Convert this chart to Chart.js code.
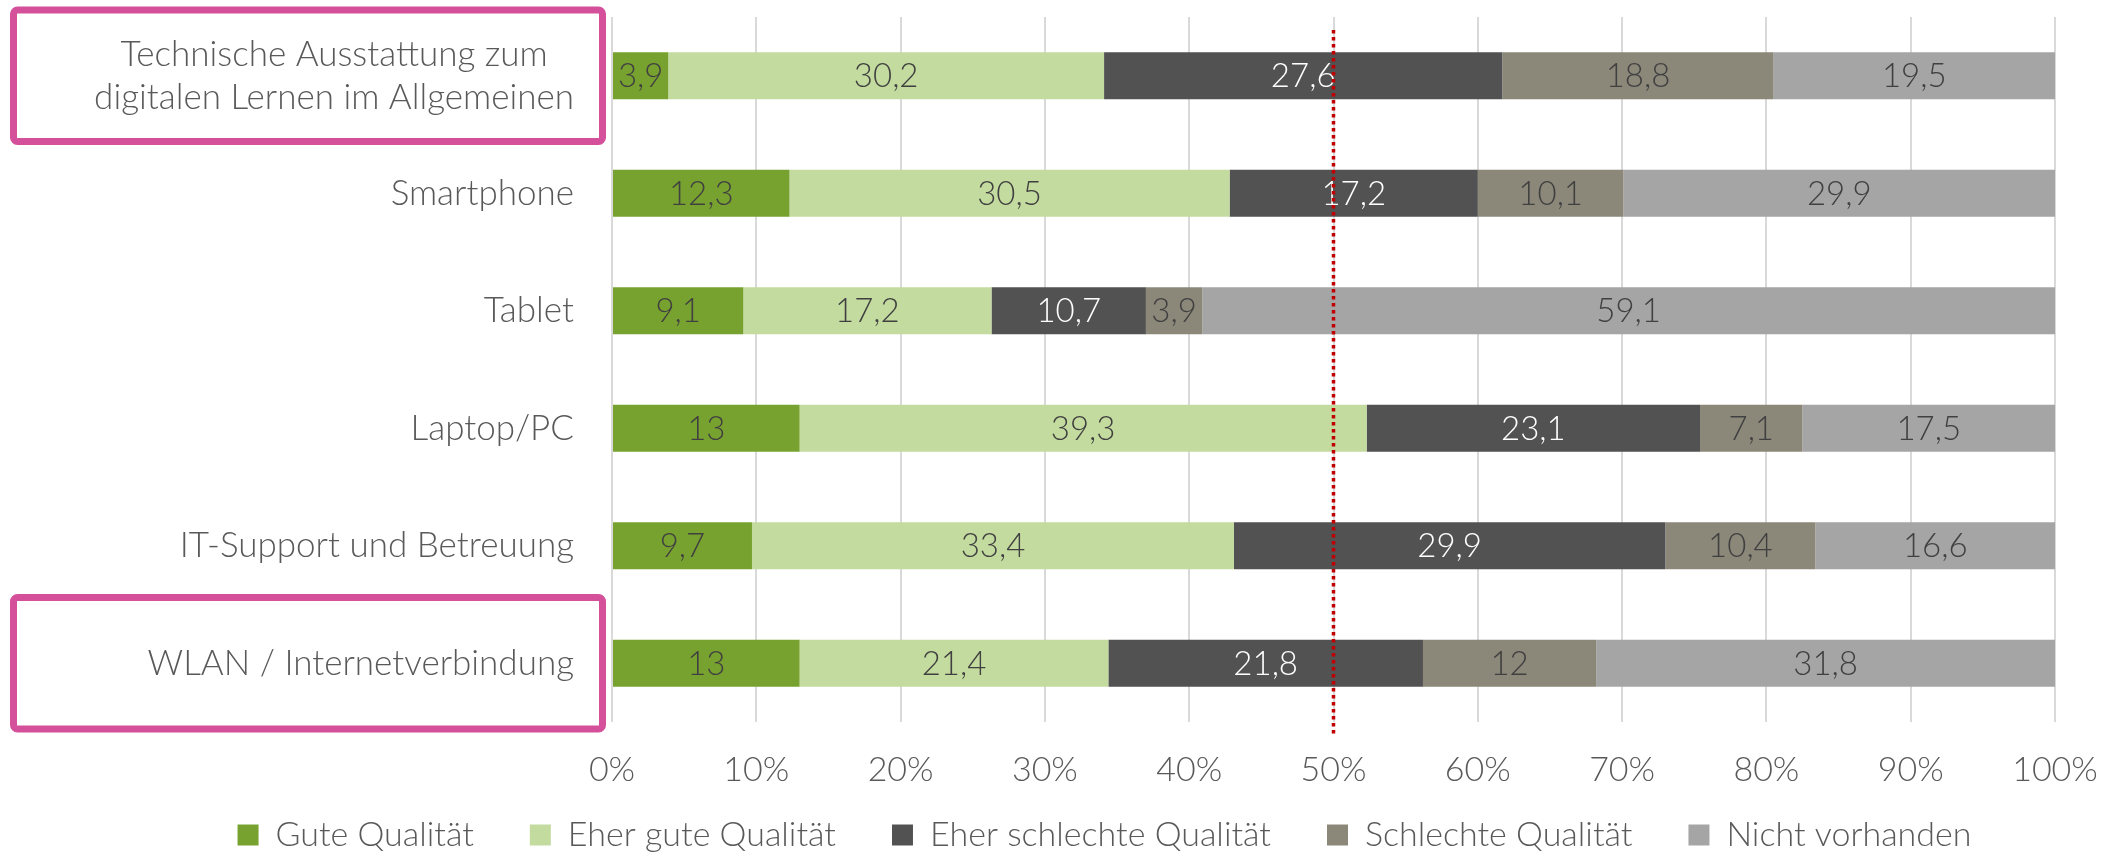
<!DOCTYPE html>
<html>
<head>
<meta charset="utf-8">
<script src="https://cdn.jsdelivr.net/npm/chart.js@4.4.1/dist/chart.umd.min.js"></script>
<style>
    html, body { margin: 0; padding: 0; background: #fff; }
    #wrap { width: 2118px; height: 853px; }
</style>
</head>
<body>
<div id="wrap"><canvas id="chart"></canvas></div>
<script>
var categories = [
    ["Technische Ausstattung zum", "digitalen Lernen im Allgemeinen"],
    "Smartphone",
    "Tablet",
    "Laptop/PC",
    "IT-Support und Betreuung",
    "WLAN / Internetverbindung"
];

var seriesNames = ["Gute Qualität", "Eher gute Qualität", "Eher schlechte Qualität", "Schlechte Qualität", "Nicht vorhanden"];
var gute = [3.9, 12.3, 9.1, 13, 9.7, 13];
var eherGute = [30.2, 30.5, 17.2, 39.3, 33.4, 21.4];
var eherSchlechte = [27.6, 17.2, 10.7, 23.1, 29.9, 21.8];
var schlechte = [18.8, 10.1, 3.9, 7.1, 10.4, 12];
var nichtVorhanden = [19.5, 29.9, 59.1, 17.5, 16.6, 31.8];

var seriesColors = ["#78A22F", "#C3DB9E", "#525252", "#8B887A", "#A5A5A5"];
var labelColors = ["#404040", "#404040", "#FFFFFF", "#404040", "#404040"];

var xMax = 100;
var xStep = 10;
var refValue = 50;          // red dotted line
var highlighted = [0, 5];   // categories with pink frame

var textColor = "#595959";
var fontFamily = "Lato, 'Open Sans', sans-serif";

// value labels in the middle of each segment
var valueLabels = {
    id: 'valueLabels',
    afterDatasetsDraw: function (chart) {
        var ctx = chart.ctx;
        ctx.save();
        ctx.font = '300 33px ' + fontFamily;
        ctx.textAlign = 'center';
        ctx.textBaseline = 'middle';
        chart.data.datasets.forEach(function (ds, i) {
            chart.getDatasetMeta(i).data.forEach(function (bar, j) {
                ctx.fillStyle = labelColors[i];
                ctx.fillText(String(ds.data[j]).replace('.', ','), (bar.x + bar.base) / 2, bar.y + 1);
            });
        });
        ctx.restore();
    }
};

// dotted red line at 50%
var refLine = {
    id: 'refLine',
    afterDatasetsDraw: function (chart) {
        var ctx = chart.ctx, area = chart.chartArea;
        var x = chart.scales.x.getPixelForValue(refValue);
        ctx.save();
        ctx.strokeStyle = '#C00000';
        ctx.lineWidth = 3.5;
        ctx.setLineDash([3.5, 3.5]);
        ctx.beginPath();
        ctx.moveTo(x, area.top + 13);
        ctx.lineTo(x, area.bottom + 15);
        ctx.stroke();
        ctx.restore();
    }
};

// category labels (multi-line centred) and pink frames
var catLabels = {
    id: 'catLabels',
    afterDraw: function (chart) {
        var ctx = chart.ctx, area = chart.chartArea, y = chart.scales.y;
        var band = (area.bottom - area.top) / categories.length;
        ctx.save();
        ctx.font = '300 35px ' + fontFamily;
        ctx.fillStyle = textColor;
        ctx.textAlign = 'center';
        ctx.textBaseline = 'middle';
        var right = area.left - 38;
        categories.forEach(function (lab, i) {
            var lines = Array.isArray(lab) ? lab : [lab];
            var w = 0;
            lines.forEach(function (l) { w = Math.max(w, ctx.measureText(l).width); });
            var cy = y.getPixelForValue(i);
            var lh = 43;
            lines.forEach(function (l, k) {
                ctx.fillText(l, right - w / 2, cy + (k - (lines.length - 1) / 2) * lh);
            });
        });
        ctx.strokeStyle = '#D4509A';
        ctx.lineWidth = 7;
        highlighted.forEach(function (i) {
            var cy = y.getPixelForValue(i);
            var h = band * 0.56;
            ctx.beginPath();
            ctx.roundRect(13.5, cy - h, area.left - 9.5 - 13.5, 2 * h, 4);
            ctx.stroke();
        });
        ctx.restore();
    }
};

// move the legend up right under the tick labels
var legendPlace = {
    id: 'legendPlace',
    afterLayout: function (chart) {
        var lg = chart.legend;
        var h = lg.height;
        lg.top = chart.chartArea.bottom + 40;
        lg.bottom = lg.top + h;
    }
};

var datasets = [gute, eherGute, eherSchlechte, schlechte, nichtVorhanden].map(function (d, i) {
    return {
        label: seriesNames[i],
        data: d,
        backgroundColor: seriesColors[i],
        borderWidth: 0,
        barPercentage: 0.4,
        categoryPercentage: 1.0
    };
});

var chart = new Chart(document.getElementById('chart').getContext('2d'), {
    type: 'bar',
    data: { labels: categories, datasets: datasets },
    options: {
        indexAxis: 'y',
        responsive: true,
        maintainAspectRatio: false,
        animation: false,
        layout: { padding: { left: 154, right: 63, top: 17, bottom: -49 } },
        scales: {
            x: {
                stacked: true,
                min: 0,
                max: xMax,
                afterFit: function (s) {
                    s.height = 80;
                    s.paddingLeft = 0;
                    s.paddingRight = 0;
                },
                ticks: {
                    stepSize: xStep,
                    padding: 28,
                    maxRotation: 0,
                    color: textColor,
                    font: { family: fontFamily, size: 34, weight: 300 },
                    callback: function (v) { return v + '%'; }
                },
                grid: { color: '#D9D9D9', lineWidth: 2, drawTicks: false },
                border: { display: false }
            },
            y: {
                stacked: true,
                afterFit: function (s) { s.width = 458; },
                ticks: { display: false },
                grid: { display: false },
                border: { display: false }
            }
        },
        plugins: {
            legend: {
                position: 'bottom',
                labels: {
                    boxWidth: 21,
                    boxHeight: 21,
                    padding: 56,
                    color: textColor,
                    font: { family: fontFamily, size: 34, weight: 300 }
                }
            },
            tooltip: { enabled: false }
        }
    },
    plugins: [valueLabels, refLine, catLabels, legendPlace]
});
</script>
</body>
</html>
